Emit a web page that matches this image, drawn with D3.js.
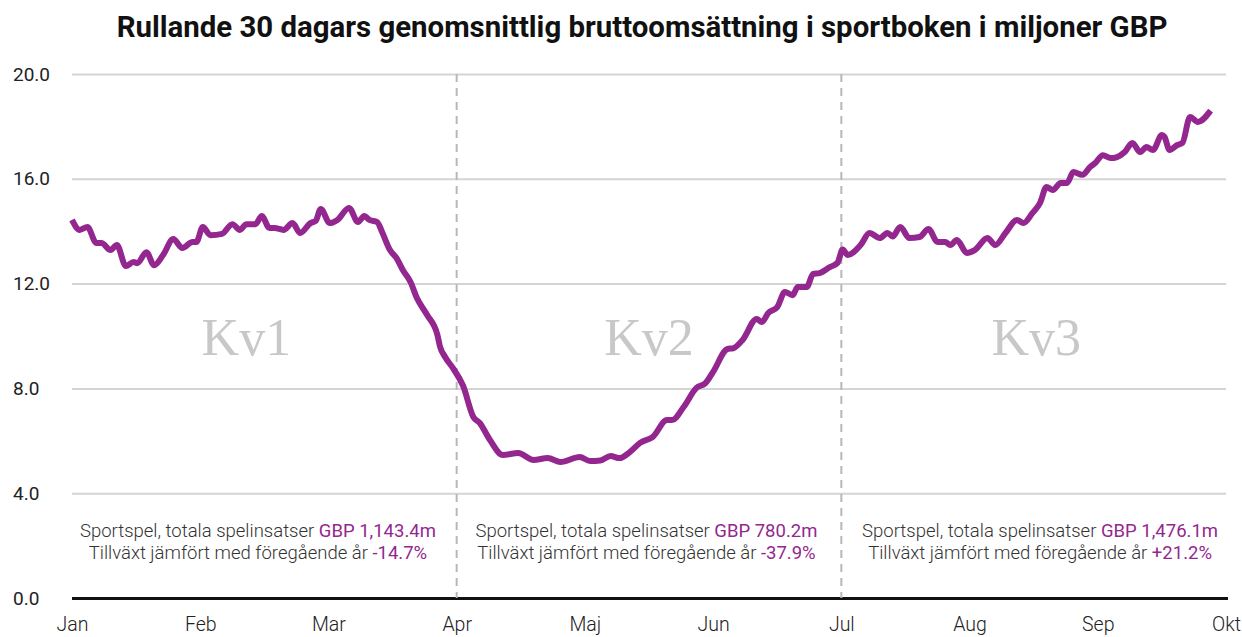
<!DOCTYPE html>
<html><head><meta charset="utf-8">
<script src="https://cdn.jsdelivr.net/npm/d3@7"></script>
<style>
html,body{margin:0;padding:0;background:#fff;}
svg{display:block;}
</style></head>
<body>
<svg id="chart" width="1242" height="637"></svg>
<script>
// ---- data ----
const title = "Rullande 30 dagars genomsnittlig bruttoomsättning i sportboken i miljoner GBP";
const monthLabels = ["Jan","Feb","Mar","Apr","Maj","Jun","Jul","Aug","Sep","Okt"];
const yTicks = [0, 4, 8, 12, 16, 20];
// position in months since 1 Jan
const positions = [0.00,0.06,0.12,0.19,0.23,0.30,0.35,0.42,0.48,0.51,0.58,0.64,0.71,0.79,0.86,0.94,0.97,
 1.02,1.08,1.17,1.25,1.31,1.36,1.43,1.48,1.54,1.58,1.65,1.72,1.78,1.86,1.90,1.94,
 2.01,2.07,2.16,2.23,2.28,2.32,2.38,2.42,2.48,2.53,2.58,2.64,2.69,2.77,2.85,2.87,2.91,2.97,
 3.05,3.13,3.18,3.26,3.36,3.48,3.60,3.71,3.81,3.96,
 4.04,4.12,4.20,4.27,4.35,4.43,4.53,4.64,4.68,4.77,4.87,4.94,
 5.00,5.11,5.16,5.23,5.34,5.38,5.43,5.50,5.56,5.62,5.66,5.73,5.78,5.83,5.91,5.97,
 6.01,6.05,6.15,6.22,6.30,6.36,6.40,6.46,6.53,6.61,6.68,6.75,6.81,6.85,6.90,6.98,
 7.04,7.14,7.20,7.28,7.37,7.42,7.49,7.55,7.60,7.65,7.71,7.76,7.81,7.88,7.94,7.98,
 8.04,8.10,8.15,8.21,8.27,8.33,8.38,8.43,8.50,8.52,8.56,8.62,8.66,8.72,8.78,8.88];
const values = [14.43,14.05,14.16,13.55,13.55,13.28,13.47,12.67,12.82,12.78,13.20,12.70,13.09,13.70,13.36,13.59,13.59,
 14.16,13.85,13.90,14.27,14.05,14.27,14.27,14.58,14.12,14.12,14.05,14.31,13.93,14.31,14.39,14.85,
 14.31,14.43,14.89,14.35,14.58,14.43,14.35,13.95,13.28,12.98,12.52,12.06,11.45,10.80,10.04,9.60,9.20,8.78,
 8.10,6.91,6.68,6.03,5.46,5.53,5.27,5.34,5.19,5.38,
 5.23,5.25,5.42,5.34,5.57,5.92,6.15,6.79,6.79,7.29,8.02,8.20,
 8.63,9.50,9.54,9.85,10.65,10.53,10.88,11.10,11.68,11.56,11.87,11.87,12.37,12.40,12.63,12.79,
 13.30,13.09,13.47,13.93,13.74,13.93,13.80,14.16,13.74,13.78,14.08,13.59,13.59,13.47,13.66,13.17,
 13.28,13.74,13.47,13.93,14.43,14.31,14.69,15.08,15.69,15.57,15.84,15.84,16.26,16.15,16.45,16.60,
 16.90,16.79,16.83,17.02,17.37,17.02,17.21,17.10,17.67,17.60,17.10,17.29,17.37,18.36,18.17,18.60];
const quarterLabels = ["Kv1","Kv2","Kv3"];
const quarterLabelPos = [1.36, 4.5, 7.52];
const quarterDividers = [3, 6];
const notePos = [1.45, 4.48, 7.55];
const noteLine1 = "Sportspel, totala spelinsatser ";
const noteLine2 = "Tillväxt jämfört med föregående år ";
const noteTotals = ["GBP 1,143.4m", "GBP 780.2m", "GBP 1,476.1m"];
const noteGrowth = ["-14.7%", "-37.9%", "+21.2%"];

// ---- chart ----
const svg = d3.select("#chart");
const purple = "#93278f";
const x = d3.scaleLinear().domain([0, 9]).range([72, 1226]);
const y = d3.scaleLinear().domain([0, 20]).range([598, 74]);

svg.append("text").attr("x", 642).attr("y", 37).attr("text-anchor", "middle")
  .attr("font-family", "Roboto").attr("font-weight", 700).attr("font-size", 29.4)
  .attr("fill", "#111").text(title);

// grid
const yAxis = d3.axisLeft(y).tickValues(yTicks).tickFormat(d3.format(".1f"))
  .tickSize(-(1226 - 72)).tickPadding(16);
const gy = svg.append("g").attr("transform", "translate(72,0)").call(yAxis);
gy.select(".domain").remove();
gy.selectAll(".tick line").attr("stroke", "#d4d4d4").attr("stroke-width", 2)
  .attr("x1", 0).attr("x2", 1226 - 72);
gy.selectAll(".tick text").attr("font-family", "Roboto").attr("font-size", 19)
  .attr("fill", "#222").attr("text-anchor", "start").attr("x", -59);
gy.selectAll(".tick").filter(d => d === 0).select("line").attr("stroke", "#111").attr("stroke-width", 3)
  .attr("x2", 1228 - 72);

// quarter dividers
svg.selectAll(".divider").data(quarterDividers).join("line")
  .attr("x1", d => x(d)).attr("x2", d => x(d)).attr("y1", y(20)).attr("y2", y(0))
  .attr("stroke", "#b8b8b8").attr("stroke-width", 2).attr("stroke-dasharray", "8,6");

// quarter labels
svg.selectAll(".qlabel").data(quarterLabels).join("text")
  .attr("x", (d, i) => x(quarterLabelPos[i])).attr("y", 355).attr("text-anchor", "middle")
  .attr("font-family", "Liberation Serif").attr("font-size", 52).attr("fill", "#c8c8c8")
  .text(d => d);

// notes
quarterLabels.forEach((q, i) => {
  const t1 = svg.append("text").attr("x", x(notePos[i])).attr("y", 537).attr("text-anchor", "middle")
    .attr("font-family", "Roboto").attr("font-weight", 300).attr("font-size", 18.5).attr("fill", "#333");
  t1.append("tspan").text(noteLine1);
  t1.append("tspan").attr("fill", purple).attr("font-weight", 400).text(noteTotals[i]);
  const t2 = svg.append("text").attr("x", x(notePos[i])).attr("y", 559).attr("text-anchor", "middle")
    .attr("font-family", "Roboto").attr("font-weight", 300).attr("font-size", 18.5).attr("fill", "#333");
  t2.append("tspan").text(noteLine2);
  t2.append("tspan").attr("fill", purple).attr("font-weight", 400).text(noteGrowth[i]);
});

// x axis labels
const xAxis = d3.axisBottom(x).tickValues(d3.range(monthLabels.length))
  .tickFormat(i => monthLabels[i]).tickSize(0).tickPadding(19);
const gx = svg.append("g").attr("transform", "translate(0,598)").call(xAxis);
gx.select(".domain").remove();
gx.selectAll(".tick text").attr("font-family", "Roboto").attr("font-weight", 300)
  .attr("font-size", 19.5).attr("fill", "#222");

// line
const pts = positions.map((p, i) => [p, values[i]]);
const line = d3.line().x(d => x(d[0])).y(d => y(d[1])).curve(d3.curveMonotoneX);
svg.append("path").datum(pts).attr("d", line).attr("fill", "none")
  .attr("stroke", purple).attr("stroke-width", 6).attr("stroke-linejoin", "round")
  .attr("stroke-linecap", "butt");
</script>
</body></html>
